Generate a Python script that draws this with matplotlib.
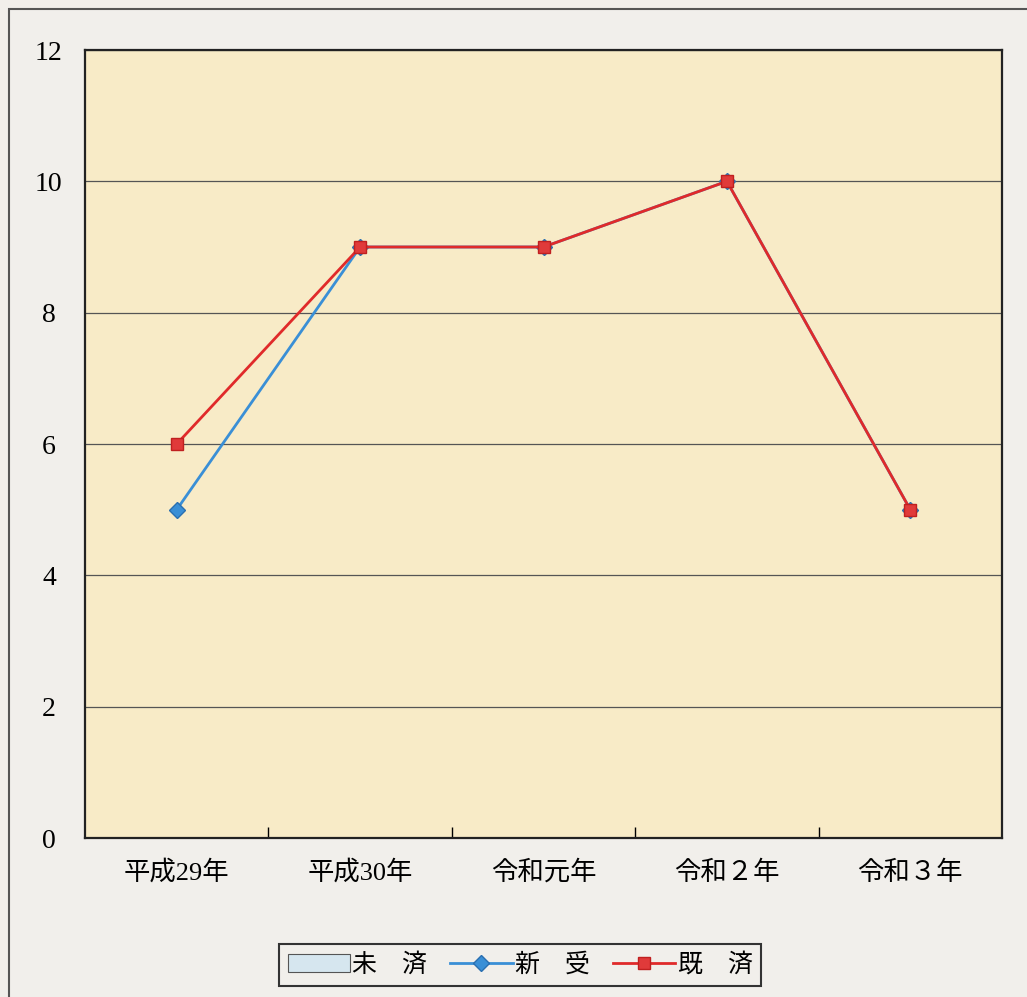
import matplotlib.pyplot as plt
import numpy as np
from matplotlib.patches import Rectangle

plt.rcParams['font.family'] = ['Liberation Serif', 'Noto Sans CJK JP']

# data
years = ["平成29年", "平成30年", "令和元年", "令和２年", "令和３年"]
mizumi = [0, 0, 0, 0, 0]      # 未済
shinju = [5, 9, 9, 10, 5]     # 新受
kizumi = [6, 9, 9, 10, 5]     # 既済

fig = plt.figure(figsize=(10.27, 9.97), dpi=100)
fig.patch.set_facecolor("#f1efeb")

# outer frame of the scanned page
fig.patches.append(Rectangle((9 / 1027, -0.01), 1.05, (997 - 9) / 997 + 0.01,
                             transform=fig.transFigure, fill=False,
                             edgecolor="#555555", lw=1.5))

ax = fig.add_axes([85 / 1027, (997 - 838) / 997, 917 / 1027, (838 - 50) / 997])
ax.set_facecolor("#f8ebc7")

x = np.arange(len(years))
b = ax.bar(x, mizumi, width=0.5, color="#d6e6ef", edgecolor="#555555", lw=0.8, label="未　済")
l1, = ax.plot(x, shinju, color="#3a8fd6", lw=2, marker="D", ms=8, mfc="#3a8fd6",
              mec="#2a6fb0", label="新　受", zorder=3)
l2, = ax.plot(x, kizumi, color="#e02a2a", lw=2, marker="s", ms=9, mfc="#e03a3a",
              mec="#c02020", label="既　済", zorder=4)

ax.set_xlim(-0.5, len(years) - 0.5)
ax.set_ylim(0, 12)
ax.set_yticks(np.arange(0, 13, 2))
ax.yaxis.grid(True, color="#555555", lw=0.9)
ax.set_axisbelow(True)
ax.tick_params(axis="y", length=0, pad=26, labelsize=20)
for t in ax.get_yticklabels():
    t.set_horizontalalignment("center")

ax.set_xticks(x)
ax.set_xticklabels(years, fontsize=19)
ax.set_xticks(np.arange(0.5, len(years) - 0.5), minor=True)
ax.tick_params(axis="x", which="major", length=0, pad=16)
ax.tick_params(axis="x", which="minor", direction="in", length=8, width=1)

for s in ax.spines.values():
    s.set_color("#222222")
    s.set_linewidth(1.6)

leg = fig.legend([b, l1, l2], ["未　済", "新　受", "既　済"], loc="center",
                 bbox_to_anchor=(520 / 1027, 1 - 965 / 997), ncol=3,
                 fontsize=18, frameon=True, fancybox=False, edgecolor="#333333",
                 facecolor="#f1efeb", framealpha=1, handlelength=2.5,
                 columnspacing=0.9, handletextpad=0.1, borderpad=0.35)
leg.get_frame().set_linewidth(1.5)

fig.savefig("out.png", dpi=100, facecolor=fig.get_facecolor())
